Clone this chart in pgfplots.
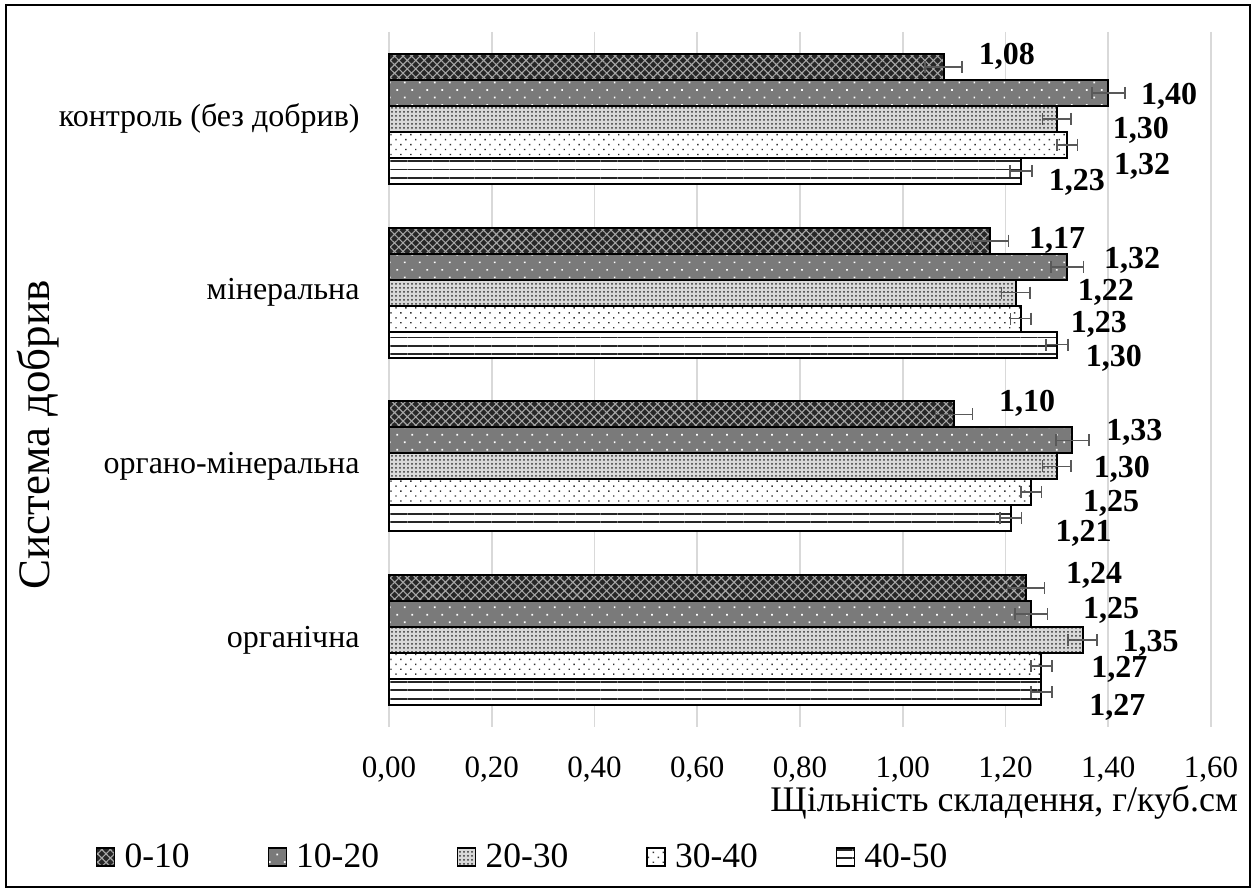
\documentclass[border=0pt]{standalone}
\usepackage{fontspec}
\setmainfont{Liberation Serif}
\usepackage{pgfplots}
\usepackage{pgfplotstable}
\pgfplotsset{compat=1.18}
\usetikzlibrary{patterns,patterns.meta}

% columns: value, category index, error, label x offset (pt), label y offset (pt)
\pgfplotstableread{
v y e dx dy
1.08 0 0.036 17 7
1.17 1 0.036 19 1.5
1.10 2 0.036 22 7
1.24 3 0.036 19.5 8
}\sA
\pgfplotstableread{
v y e dx dy
1.40 0 0.032 16 0
1.32 1 0.032 18 4.5
1.33 2 0.032 16.5 5.5
1.25 3 0.032 25.5 3.5
}\sB
\pgfplotstableread{
v y e dx dy
1.30 0 0.028 27.5 -4
1.22 1 0.028 30.5 1.5
1.30 2 0.028 18 0
1.35 3 0.028 19.5 0
}\sC
\pgfplotstableread{
v y e dx dy
1.32 0 0.020 23 -9.5
1.23 1 0.020 24.5 -1.5
1.25 2 0.020 25.5 -4
1.27 3 0.020 24.5 0
}\sD
\pgfplotstableread{
v y e dx dy
1.23 0 0.021 13.5 -4.5
1.30 1 0.021 14 -5.5
1.21 2 0.021 22 -6
1.27 3 0.021 23.5 -6
}\sE

\pgfplotsset{
  s0/.style={draw=black, line width=1pt, fill=black!85,
    postaction={pattern={Hatch[angle=45,distance=3pt,line width=0.55pt]}, pattern color=black!35}},
  s1/.style={draw=black, line width=1pt, fill=black!52,
    postaction={pattern={Dots[angle=45,distance=5.3pt,radius=0.6pt]}, pattern color=white}},
  s2/.style={draw=black, line width=1pt, fill=black!15,
    postaction={pattern={Dots[distance=2pt,radius=0.5pt]}, pattern color=black!80}},
  s3/.style={draw=black, line width=1pt, fill=white,
    postaction={pattern={Dots[angle=45,distance=3.5pt,radius=0.5pt]}, pattern color=black!80}},
  s4/.style={draw=black, line width=1pt, fill=white,
    postaction={pattern={Lines[angle=0,distance=4.2pt,line width=0.9pt]}, pattern color=black!85}},
  lab/.style={
    point meta=x,
    visualization depends on={\thisrow{dx} \as \labdx},
    visualization depends on={\thisrow{dy} \as \labdy},
    nodes near coords={\pgfmathprintnumber[fixed,fixed zerofill,precision=2,use comma]{\pgfplotspointmeta}},
    every node near coord/.append style={anchor=west, inner sep=0pt,
      xshift=\labdx pt, yshift=\labdy pt, yshift=-1.5pt, text=black,
      font=\bfseries\fontsize{16}{19}\selectfont},
    error bars/.cd, x dir=both, x explicit, error mark=|,
      error bar style={line width=0.85pt, draw=black!65},
      error mark options={line width=0.85pt, draw=black!65, mark size=3pt},
  },
}

\begin{document}
\begin{tikzpicture}
\useasboundingbox (-194.5pt,-82.5pt) rectangle (433pt,363.5pt);
\draw[line width=1pt] (-191.5pt,-80pt) rectangle (430.5pt,361pt);
\begin{axis}[
  scale only axis, width=411pt, height=347.5pt,
  xbar=0pt, bar width=0.1494,
  y dir=reverse, ymin=-0.5, ymax=3.5,
  xmin=0, xmax=1.6,
  xtick={0,0.2,0.4,0.6,0.8,1.0,1.2,1.4,1.6},
  ytick={0,1,2,3},
  yticklabels={контроль (без добрив),мінеральна,органо-мінеральна,органічна},
  axis line style={draw=none},
  major tick length=0pt,
  xmajorgrids, major grid style={draw=black!15, line width=0.8pt},
  clip=false,
  /pgf/number format/.cd, fixed, fixed zerofill, precision=2, use comma, assume math mode=true,
  /pgfplots/.cd,
  xticklabel style={anchor=base, yshift=-25.5pt, font=\fontsize{15.5}{18}\selectfont},
  yticklabel style={anchor=east, inner sep=0pt, xshift=-14.5pt, font=\fontsize{16}{19}\selectfont},
  xlabel={Щільність складення, г/куб.см},
  xlabel style={at={(axis description cs:1.033,-0.108)}, anchor=east, inner sep=0pt, font=\fontsize{18}{21}\selectfont},
  ylabel={Система добрив},
  ylabel style={at={(axis description cs:-0.427,0.42)}, anchor=center, inner sep=0pt, font=\fontsize{22.5}{25}\selectfont},
  legend columns=5,
  legend style={at={(axis description cs:-0.357,-0.187)}, anchor=west, draw=none, fill=none,
    inner sep=0pt, font=\fontsize{17.75}{20}\selectfont,
    /tikz/every even column/.append style={column sep=37pt}},
  legend image code/.code={\draw[#1, line width=0.6pt] (0pt,-4.5pt) rectangle (9pt,4.5pt); \path (11.5pt,0pt);},
]
\addplot[s0, lab] table[x=v, y=y, x error=e] {\sA};
\addplot[s1, lab] table[x=v, y=y, x error=e] {\sB};
\addplot[s2, lab] table[x=v, y=y, x error=e] {\sC};
\addplot[s3, lab] table[x=v, y=y, x error=e] {\sD};
\addplot[s4, lab] table[x=v, y=y, x error=e] {\sE};
\legend{0-10,10-20,20-30,30-40,40-50}
\end{axis}
\end{tikzpicture}
\end{document}
